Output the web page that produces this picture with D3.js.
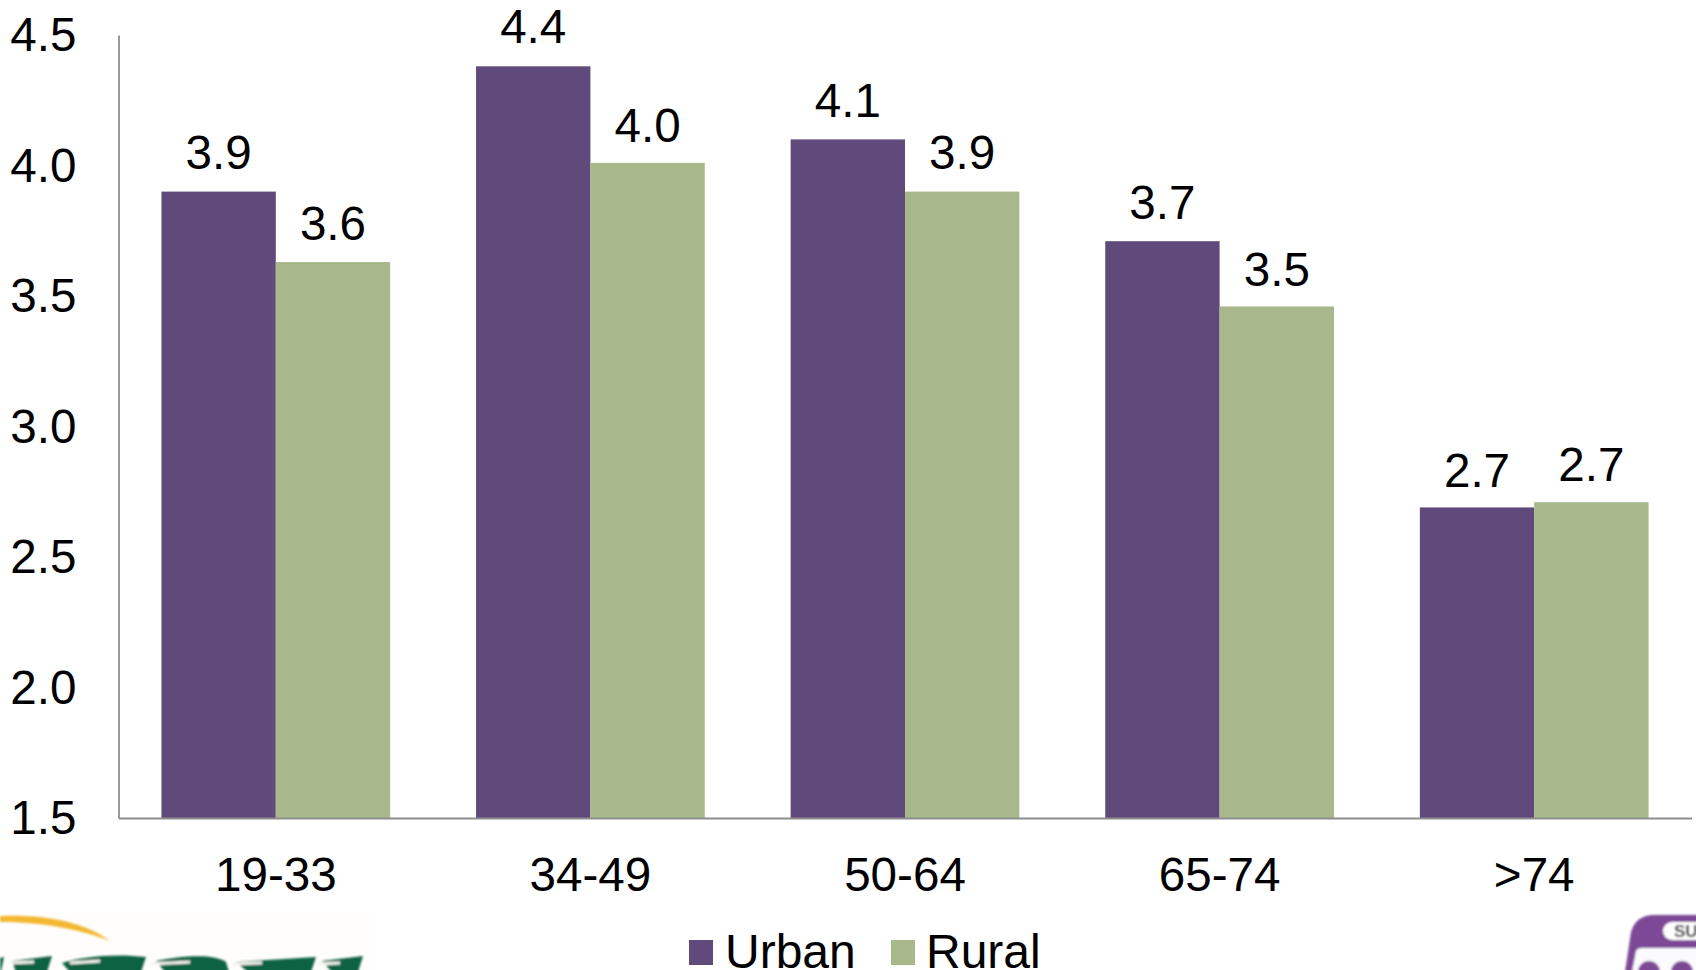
<!DOCTYPE html>
<html>
<head>
<meta charset="utf-8">
<script src="https://cdn.jsdelivr.net/npm/d3@7"></script>
<style>
html, body { margin: 0; padding: 0; background: #fff; overflow: hidden; }
svg { display: block; }
text { font-family: "Liberation Sans", Arial, sans-serif; font-size: 47.6px; fill: #000; }
</style>
</head>
<body>
<svg id="chart" width="1696" height="970"></svg>
<script>
const categories = ["19-33", "34-49", "50-64", "65-74", ">74"];
const urbanValues = [3.90, 4.38, 4.10, 3.71, 2.69];
const ruralValues = [3.63, 4.01, 3.90, 3.46, 2.71];
const seriesNames = ["Urban", "Rural"];
const seriesColors = ["#604a7b", "#a9b88a"];
const yTicks = [1.5, 2.0, 2.5, 3.0, 3.5, 4.0, 4.5];
// Hand placement of the value labels, in pixels, per series and category
const urbanLabelShift = [-1, -1, 0, 0, 2];
const ruralLabelShift = [0, 1, -1, 2, 1];

const svg = d3.select("#chart");
const plot = { left: 118.5, right: 1691.5, top: 35, bottom: 818 };

const x0 = d3.scaleBand().domain(categories)
  .range([plot.left, plot.right]).paddingInner(0.273).paddingOuter(0.1365);
const x1 = d3.scaleBand().domain(seriesNames).range([0, x0.bandwidth()]);
const y = d3.scaleLinear().domain([1.5, 4.5]).range([plot.bottom, plot.top]);
const color = d3.scaleOrdinal(seriesNames, seriesColors);

const rows = seriesNames.flatMap((name, s) => {
  const values = s === 0 ? urbanValues : ruralValues;
  const shifts = s === 0 ? urbanLabelShift : ruralLabelShift;
  return categories.map((c, i) => ({ name, category: c, value: values[i], shift: shifts[i] }));
});

// Bars
svg.append("g").selectAll("rect").data(rows).join("rect")
  .attr("x", d => x0(d.category) + x1(d.name))
  .attr("width", x1.bandwidth())
  .attr("y", d => y(d.value))
  .attr("height", d => y(1.5) - y(d.value))
  .attr("fill", d => color(d.name));

// Value labels above the bars
svg.append("g").selectAll("text").data(rows).join("text")
  .attr("x", d => x0(d.category) + x1(d.name) + x1.bandwidth() / 2)
  .attr("y", d => y(d.value) - 22 + d.shift)
  .attr("text-anchor", "middle")
  .text(d => d3.format(".1f")(d.value));

// Axes
const yAxis = svg.append("g").attr("transform", `translate(${plot.left},0)`)
  .call(d3.axisLeft(y).tickValues(yTicks).tickFormat(d3.format(".1f")).tickSize(0).tickPadding(42));
yAxis.select(".domain").attr("stroke", "#8e8e8e").attr("stroke-width", 1.8);
yAxis.selectAll("text").attr("dy", null).attr("y", 15.7);
yAxis.attr("font-family", null).attr("font-size", null);

const xAxis = svg.append("g").attr("transform", `translate(0,${plot.bottom})`)
  .call(d3.axisBottom(x0).tickSize(0).tickPadding(0));
xAxis.select(".domain").attr("stroke", "#8e8e8e").attr("stroke-width", 1.8);
xAxis.selectAll("text").attr("dy", null).attr("y", 73);
xAxis.attr("font-family", null).attr("font-size", null);

// Legend
const legendSwatchX = [689, 891];
const legendTextX = [725, 926];
const legend = svg.append("g");
seriesNames.forEach((name, i) => {
  legend.append("rect").attr("x", legendSwatchX[i]).attr("y", 940)
    .attr("width", 24).attr("height", 25).attr("fill", color(name));
  legend.append("text").attr("x", legendTextX[i]).attr("y", 967.5)
    .style("font-size", "48px").text(name);
});

// Sponsor logos, low-resolution artwork cut by the lower edge of the slide
const defs = svg.append("defs");
defs.append("filter").attr("id", "soft").append("feGaussianBlur").attr("stdDeviation", 0.9);

const logoLeft = svg.append("g");
logoLeft.append("rect").attr("x", 0).attr("y", 914).attr("width", 372).attr("height", 56).attr("fill", "#fffefc");
const artLeft = logoLeft.append("g").attr("filter", "url(#soft)");
artLeft.append("path")
  .attr("d", "M0,916 C45,914 85,922 110,941 C80,929 40,922 0,922 Z")
  .attr("fill", "#f3b733");
const streaks = [
  "M0,958 L4,957 L1,972 L0,972 Z",
  "M12,961 L52,956 L47,972 L16,972 Z",
  "M62,963 C80,957 115,953 146,957 L141,972 L70,972 Z",
  "M156,961 C185,955 215,954 226,962 L229,972 L165,972 Z",
  "M236,962 L316,957 L311,972 L248,972 Z",
  "M322,961 L363,956 L358,972 L332,972 Z"
];
artLeft.selectAll("path.streak").data(streaks).join("path")
  .attr("class", "streak").attr("d", d => d).attr("fill", "#0f6243");
// Pale slits through the streaks
const slits = ["M8,963 L34,962", "M70,963 L100,961", "M150,964 L190,962", "M232,964 L262,963", "M318,964 L340,963"];
artLeft.selectAll("path.slit").data(slits).join("path")
  .attr("class", "slit").attr("d", d => d).attr("fill", "none")
  .attr("stroke", "#f4f4ee").attr("stroke-width", 3);

const logoRight = svg.append("g").attr("filter", "url(#soft)");
logoRight.append("path")
  .attr("d", "M1625,972 L1631,932 Q1636,915 1654,915 L1698,915 L1698,972 Z")
  .attr("fill", "#7d4a96");
logoRight.append("path")
  .attr("d", "M1632,972 L1636,951 Q1637,948 1642,948 L1698,948 L1698,972 Z")
  .attr("fill", "#fbfafc");
logoRight.append("rect").attr("x", 1663).attr("y", 922).attr("width", 45).attr("height", 18)
  .attr("rx", 9).attr("fill", "#fff");
logoRight.selectAll("circle").data([1649, 1682]).join("circle")
  .attr("cx", d => d).attr("cy", 972).attr("r", 11).attr("fill", "#7d4a96");
logoRight.append("text").attr("x", 1674).attr("y", 937)
  .style("font-size", "17px").style("font-weight", "bold").style("fill", "#222").text("SU");
</script>
</body>
</html>
